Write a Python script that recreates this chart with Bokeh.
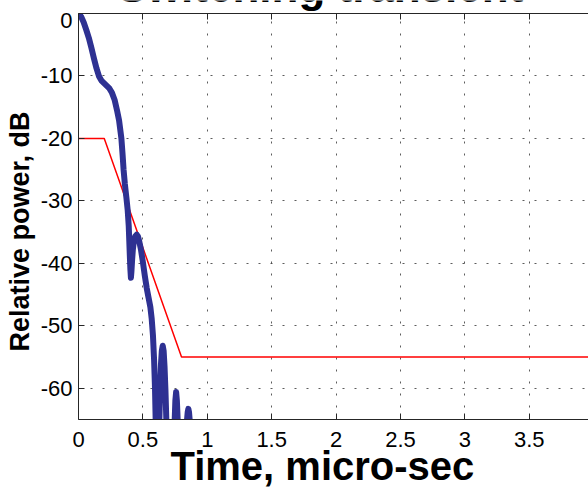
from bokeh.core.properties import value
from bokeh.embed import file_html
from bokeh.layouts import column
from bokeh.models import ColumnDataSource, FixedTicker, LinearAxis, Range1d
from bokeh.plotting import figure
from bokeh.resources import INLINE

# Measured relative power of the switching transient (dB vs micro-seconds)
time_us = [
    0.000, 0.020, 0.040, 0.060, 0.080, 0.100, 0.120, 0.140, 0.160, 0.180,
    0.200, 0.220, 0.240, 0.260, 0.280, 0.300, 0.315, 0.333, 0.342, 0.350,
    0.360, 0.372, 0.382, 0.390, 0.398, 0.403, 0.407, 0.411, 0.416, 0.422,
    0.430, 0.440, 0.452, 0.462, 0.472, 0.485, 0.500, 0.515, 0.530, 0.545,
    0.558, 0.568, 0.578, 0.587, 0.594, 0.599, 0.605, 0.612,
    0.620, 0.628, 0.634, 0.640, 0.647, 0.654, 0.661, 0.668, 0.675, 0.682,
    0.690, 0.700,
    0.725, 0.740, 0.747, 0.752, 0.758, 0.764, 0.770, 0.777, 0.790, 0.800,
    0.815, 0.836, 0.843, 0.848, 0.853, 0.858, 0.863, 0.870, 0.880,
]
power_db = [
    0.0, -0.5, -1.4, -2.6, -3.9, -5.5, -7.2, -8.8, -10.1, -10.8,
    -11.2, -11.6, -12.0, -12.7, -13.8, -15.6, -17.1, -20.0, -22.5, -25.0,
    -27.3, -29.5, -31.5, -34.0, -38.5, -41.0, -42.3, -41.3, -39.5, -37.8,
    -36.4, -35.7, -35.4, -35.7, -36.5, -37.8, -39.8, -42.0, -44.0, -45.6,
    -47.0, -48.8, -51.5, -55.5, -60.0, -65.0, -72.0, -90.0,
    -72.0, -65.0, -60.0, -56.3, -54.0, -53.2, -54.0, -56.5, -60.2, -65.0,
    -72.0, -90.0,
    -80.0, -68.0, -65.0, -62.0, -60.6, -62.0, -65.0, -68.0, -80.0, -90.0,
    -80.0, -68.0, -65.0, -63.8, -63.3, -63.8, -65.0, -68.0, -90.0,
]

# Mask limit
mask_time_us = [0.0, 0.2, 0.8, 4.0]
mask_db = [-20.0, -20.0, -55.0, -55.0]

# Axis ticks and their labels
x_ticks = [0.0, 0.5, 1.0, 1.5, 2.0, 2.5, 3.0, 3.5, 4.0]
x_tick_labels = ["0", "0.5", "1", "1.5", "2", "2.5", "3", "3.5", "4"]
y_ticks = [-60, -50, -40, -30, -20, -10, 0]
y_tick_labels = ["-60", "-50", "-40", "-30", "-20", "-10", "0"]

TITLE = "Switching transient"

FONT = "Liberation Sans"
AXIS_COLOR = "#262626"
NBSP = "\u00a0"

# ---- title strip: only the bottom of the big title fits in it ----
# (the column aligns this strip's frame with the plot frame, x = 78..588 px)
head = figure(
    width=588,
    height=12,
    output_backend="svg",
    toolbar_location=None,
    x_range=Range1d(78, 588),
    y_range=Range1d(0, 12),
    x_axis_location=None,
    y_axis_location=None,
    min_border=0,
    outline_line_color=None,
    background_fill_color="white",
    border_fill_color="white",
)
head.grid.visible = False
head.text(
    x=[117], y=[11], text=[TITLE], y_offset=-15,
    text_font=value(FONT), text_font_size="44px", text_font_style="bold",
    text_align="left", text_baseline="alphabetic", text_color="black",
)

# ---- main plot ----
p = figure(
    width=588,
    height=478,
    output_backend="svg",
    toolbar_location=None,
    x_range=Range1d(0, 3.96),
    y_range=Range1d(-65, 0),
    min_border_left=78,
    min_border_right=0,
    min_border_top=1,
    min_border_bottom=70,
    outline_line_color=None,
    background_fill_color="white",
    border_fill_color="white",
)

# axes: MATLAB style, ticks pointing inwards
p.xaxis.ticker = FixedTicker(ticks=x_ticks)
p.yaxis.ticker = FixedTicker(ticks=y_ticks)
p.xaxis.major_label_overrides = dict(zip(x_ticks, x_tick_labels))
p.yaxis.major_label_overrides = dict(zip(y_ticks, y_tick_labels))
for ax in (p.xaxis[0], p.yaxis[0]):
    ax.axis_line_color = AXIS_COLOR
    ax.axis_line_width = 1
    ax.major_tick_line_color = AXIS_COLOR
    ax.major_tick_in = 6
    ax.major_tick_out = 0
    ax.minor_tick_in = 0
    ax.minor_tick_out = 0
    ax.major_label_text_font = FONT
    ax.major_label_text_font_size = "22px"
    ax.major_label_text_color = "black"
    ax.axis_label_text_font = FONT
    ax.axis_label_text_font_style = "bold"
    ax.axis_label_text_color = "black"
p.xaxis.major_label_standoff = 12
p.yaxis.major_label_standoff = 6

# axis titles; trailing no-break spaces nudge them off the frame centre
p.xaxis.axis_label = "Time, micro-sec" + NBSP * 2
p.xaxis.axis_label_text_font_size = "40px"
p.xaxis.axis_label_standoff = -6
p.yaxis.axis_label = "Relative power, dB" + NBSP * 4
p.yaxis.axis_label_text_font_size = "27px"
p.yaxis.axis_label_standoff = 3

top_axis = LinearAxis(
    ticker=FixedTicker(ticks=x_ticks),
    axis_line_color=AXIS_COLOR,
    major_tick_line_color=AXIS_COLOR,
    major_tick_in=6,
    major_tick_out=0,
    minor_tick_in=0,
    minor_tick_out=0,
    major_label_text_font_size="0px",
    major_label_text_color=None,
    major_label_standoff=0,
)
p.add_layout(top_axis, "above")

# dotted grid
p.xgrid.ticker = FixedTicker(ticks=x_ticks)
p.ygrid.ticker = FixedTicker(ticks=y_ticks)
for g in (p.xgrid[0], p.ygrid[0]):
    g.grid_line_color = "#333333"
    g.grid_line_width = 1
    g.grid_line_dash = "2 10"
    g.grid_line_alpha = 0.8

src = ColumnDataSource(data=dict(t=time_us, db=power_db))
mask = ColumnDataSource(data=dict(t=mask_time_us, db=mask_db))

p.line("t", "db", source=mask, line_color="#ff0000", line_width=1.5)
p.line("t", "db", source=src, line_color="#2e3192", line_width=6,
       line_join="round", line_cap="round")

page = column(head, p, spacing=0)

open("out.html", "w").write(file_html(page, INLINE))
